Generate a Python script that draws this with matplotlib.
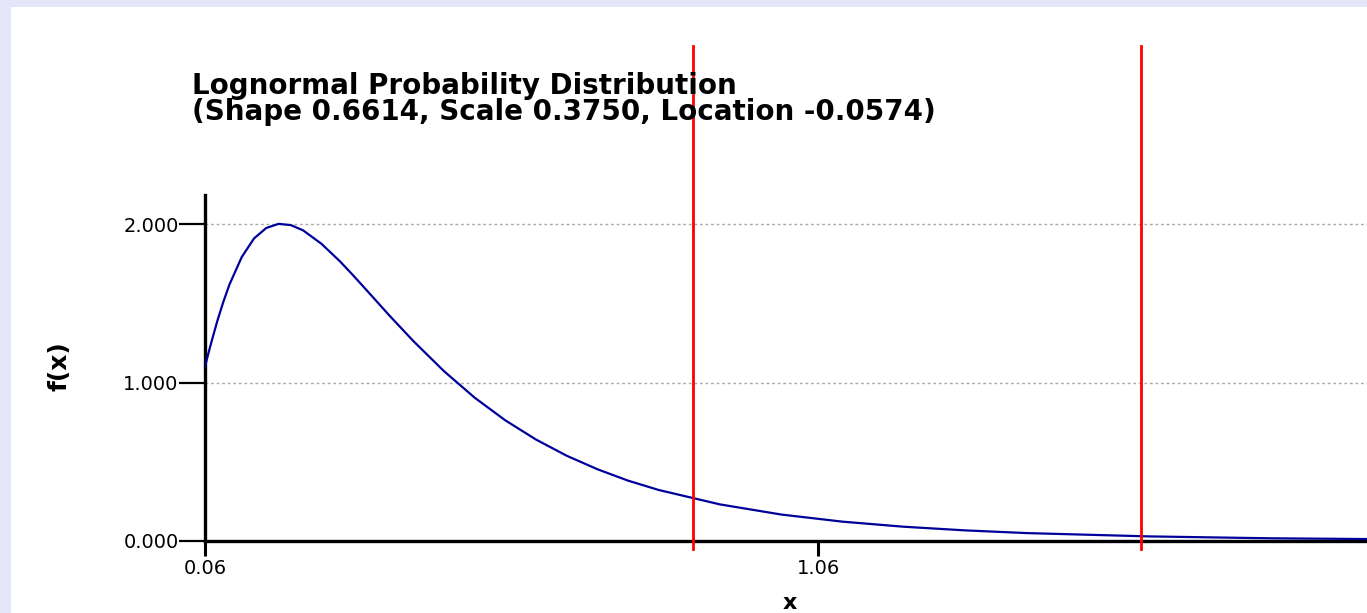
"""Lognormal probability density plot with two red marker lines."""

import matplotlib
matplotlib.use("Agg")
import matplotlib.pyplot as plt
from matplotlib.patches import Rectangle

# Density curve (x, f(x))
x_vals = [0.06, 0.065, 0.07, 0.08, 0.09, 0.10, 0.12, 0.14, 0.16, 0.18, 0.20,
          0.22, 0.25, 0.28, 0.30, 0.32, 0.36, 0.40, 0.45, 0.50, 0.55, 0.60,
          0.65, 0.70, 0.75, 0.80, 0.90, 1.00, 1.10, 1.20, 1.30, 1.40, 1.60,
          1.80, 2.00]
fx_vals = [1.100, 1.176, 1.249, 1.387, 1.510, 1.619, 1.792, 1.909, 1.975,
           2.001, 1.993, 1.960, 1.875, 1.765, 1.683, 1.598, 1.426, 1.261,
           1.071, 0.904, 0.761, 0.640, 0.538, 0.453, 0.381, 0.322, 0.231,
           0.167, 0.122, 0.090, 0.067, 0.050, 0.029, 0.017, 0.011]

# Red vertical markers
marker_x = [0.856, 1.587]

x_ticks = [0.06, 1.06]
x_tick_labels = ["0.06", "1.06"]
y_ticks = [0.0, 1.0, 2.0]
y_tick_labels = ["0.000", "1.000", "2.000"]

title_lines = ["Lognormal Probability Distribution",
               "(Shape 0.6614, Scale 0.3750, Location -0.0574)"]

W, H = 1367, 613
fig = plt.figure(figsize=(W / 100, H / 100), dpi=100)
fig.patch.set_facecolor("#e6e6fa")
# white panel inside the lavender frame
fig.add_artist(Rectangle((11 / W, 0), 1 - 11 / W, 1 - 7 / H,
                         transform=fig.transFigure, facecolor="white",
                         edgecolor="none", zorder=-10))

ax_left, ax_bottom = 205 / W, 1 - 541 / H
ax_top = 1 - 195 / H
ax = fig.add_axes([ax_left, ax_bottom, 1 - ax_left, ax_top - ax_bottom])
ax.set_facecolor("none")

ax.plot(x_vals, fx_vals, color="#00009a", lw=1.6, zorder=3)

for mx in marker_x:
    ax.axvline(mx, ymin=-0.023, ymax=1.43, color="#ff0000", lw=2.0,
               clip_on=False, zorder=4)

for yv in [1.0, 2.0]:
    ax.axhline(yv, color="#aaaaaa", lw=1.0, ls=(0, (2, 2)), zorder=1)

ax.set_xlim(0.06, 0.06 + (W - 205) / 613)
ax.set_ylim(0, 346 / 158.5)

for side in ["top", "right"]:
    ax.spines[side].set_visible(False)
for side in ["left", "bottom"]:
    ax.spines[side].set_linewidth(2.4)
    ax.spines[side].set_color("black")

ax.set_xticks(x_ticks)
ax.set_xticklabels(x_tick_labels)
ax.set_yticks(y_ticks)
ax.set_yticklabels(y_tick_labels)
ax.tick_params(axis="y", direction="out", length=19, width=1.6, pad=0,
               labelsize=14)
ax.tick_params(axis="x", direction="out", length=11, width=2.2, pad=2,
               labelsize=14)

# two-line title, placed on baselines
for line, base_y in zip(title_lines, [94, 120]):
    fig.text(192 / W, 1 - base_y / H, line, ha="left", va="baseline",
             fontsize=20, fontweight="bold")

fig.text(60 / W, 1 - 366 / H, "f(x)", rotation=90, ha="center",
         va="center", fontsize=18, fontweight="bold")
fig.text(790 / W, 1 - 603 / H, "x", ha="center", va="center",
         fontsize=16, fontweight="bold")

fig.savefig("out.png", dpi=100, facecolor=fig.get_facecolor())
